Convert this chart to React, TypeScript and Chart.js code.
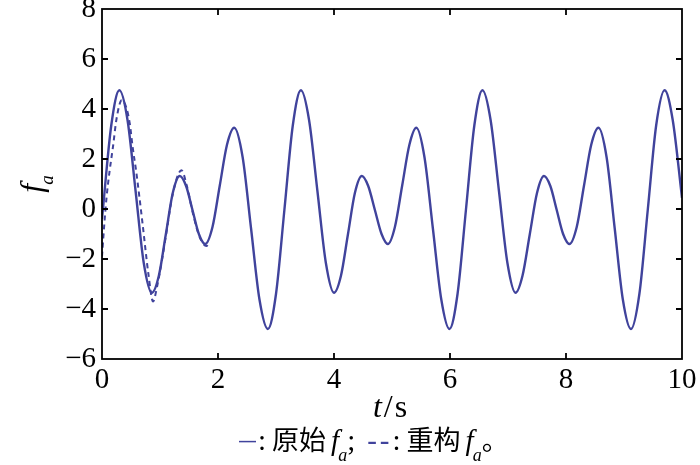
import React, { useEffect, useRef } from "react";
import { Chart, registerables } from "chart.js";

Chart.register(...registerables);

// time axis (s) and original f_a values
const tOrig = [0, 0.16, 0.30, 0.44, 0.58, 0.72, 0.86, 0.98, 1.10, 1.22, 1.34, 1.45, 1.56, 1.67, 1.78, 1.905, 2.03, 2.155, 2.28, 2.425, 2.57, 2.715, 2.86, 3.0, 3.145, 3.29, 3.43, 3.57, 3.715, 3.86, 4.00, 4.12, 4.24, 4.36, 4.48, 4.59, 4.705, 4.82, 4.93, 5.05, 5.175, 5.30, 5.42, 5.56, 5.705, 5.85, 5.99, 6.13, 6.275, 6.42, 6.56, 6.70, 6.845, 6.99, 7.13, 7.25, 7.375, 7.50, 7.62, 7.73, 7.84, 7.95, 8.06, 8.185, 8.31, 8.435, 8.56, 8.70, 8.84, 8.98, 9.12, 9.265, 9.41, 9.555, 9.70, 9.84, 10.0];
const fOrig = [-0.4, 3.35, 4.75, 3.56, 0.70, -2.16, -3.35, -2.67, -1.02, 0.64, 1.32, 0.92, -0.04, -1.0, -1.40, -0.72, 0.93, 2.57, 3.25, 2.07, -0.78, -3.62, -4.80, -3.40, -0.03, 3.35, 4.75, 3.56, 0.70, -2.16, -3.35, -2.67, -1.02, 0.64, 1.32, 0.92, -0.04, -1.0, -1.40, -0.72, 0.93, 2.57, 3.25, 2.07, -0.78, -3.62, -4.80, -3.40, -0.03, 3.35, 4.75, 3.56, 0.70, -2.16, -3.35, -2.67, -1.02, 0.64, 1.32, 0.92, -0.04, -1.0, -1.40, -0.72, 0.93, 2.57, 3.25, 2.07, -0.78, -3.62, -4.80, -3.40, -0.03, 3.35, 4.75, 3.56, 0.45];

// reconstructed f_a (dashed), only over the first ~1.8 s
const tRec = [0, 0.04, 0.08, 0.13, 0.19, 0.25, 0.34, 0.42, 0.48, 0.53, 0.59, 0.70, 0.80, 0.88, 0.95, 1.00, 1.10, 1.22, 1.37, 1.46, 1.57, 1.68, 1.80, 1.84];
const fRec = [-1.9, -0.6, 0.5, 1.5, 2.5, 3.6, 4.35, 4.05, 3.4, 2.45, 1.5, -0.6, -2.6, -3.7, -3.1, -2.5, -1.1, 0.6, 1.55, 0.95, -0.2, -1.1, -1.48, -1.4];

const xTicks = [0, 2, 4, 6, 8, 10];
const yTicks = [-6, -4, -2, 0, 2, 4, 6, 8];

const LINE = "#40439c";
const SERIF = "'Liberation Serif', 'Times New Roman', serif";
const CJK = "'Noto Sans CJK SC', sans-serif";

const boxPlugin = {
  id: "boxTicks",
  afterDraw(chart: any) {
    const { ctx, chartArea: a, scales } = chart;
    ctx.save();
    ctx.strokeStyle = "#000";
    ctx.lineWidth = 1.8;
    ctx.strokeRect(a.left, a.top, a.right - a.left, a.bottom - a.top);
    const L = 6;
    ctx.beginPath();
    xTicks.forEach((v) => {
      const x = scales.x.getPixelForValue(v);
      if (v === xTicks[0] || v === xTicks[xTicks.length - 1]) return;
      ctx.moveTo(x, a.bottom); ctx.lineTo(x, a.bottom - L);
      ctx.moveTo(x, a.top); ctx.lineTo(x, a.top + L);
    });
    yTicks.forEach((v) => {
      const y = scales.y.getPixelForValue(v);
      if (v === yTicks[0] || v === yTicks[yTicks.length - 1]) return;
      ctx.moveTo(a.left, y); ctx.lineTo(a.left + L, y);
      ctx.moveTo(a.right, y); ctx.lineTo(a.right - L, y);
    });
    ctx.stroke();
    ctx.restore();
  },
};

export default function App() {
  const ref = useRef<HTMLCanvasElement | null>(null);
  useEffect(() => {
    if (!ref.current) return;
    const chart = new Chart(ref.current, {
      type: "line",
      data: {
        datasets: [
          {
            label: "原始",
            data: tOrig.map((t, i) => ({ x: t, y: fOrig[i] })),
            borderColor: LINE,
            borderWidth: 2.4,
            pointRadius: 0,
            cubicInterpolationMode: "monotone",
          },
          {
            label: "重构",
            data: tRec.map((t, i) => ({ x: t, y: fRec[i] })),
            borderColor: LINE,
            borderWidth: 2,
            borderDash: [5, 4],
            pointRadius: 0,
            cubicInterpolationMode: "monotone",
          },
        ],
      },
      options: {
        animation: false,
        responsive: false,
        maintainAspectRatio: false,
        layout: { padding: { left: 0, top: 9, right: 18, bottom: 0 } },
        plugins: { legend: { display: false }, tooltip: { enabled: false } },
        scales: {
          x: {
            type: "linear",
            min: 0,
            max: 10,
            afterBuildTicks: (s: any) => { s.ticks = xTicks.map((v) => ({ value: v })); },
            afterFit: (s: any) => { s.height = 106; s.paddingLeft = 0; s.paddingRight = 0; },
            grid: { display: false, drawTicks: false },
            border: { display: false },
            ticks: { color: "#000", font: { family: SERIF, size: 29 }, padding: 4, maxRotation: 0, autoSkip: false },
          },
          y: {
            type: "linear",
            min: -6,
            max: 8,
            afterBuildTicks: (s: any) => { s.ticks = yTicks.map((v) => ({ value: v })); },
            afterFit: (s: any) => { s.width = 102; s.paddingTop = 0; s.paddingBottom = 0; },
            grid: { display: false, drawTicks: false },
            border: { display: false },
            ticks: {
              color: "#000",
              font: { family: SERIF, size: 29 },
              padding: 6,
              autoSkip: false,
              callback: (v: any) => (Number(v) < 0 ? "\u2212" + Math.abs(Number(v)) : String(v)),
            },
          },
        },
      },
      plugins: [boxPlugin],
    } as any);
    return () => chart.destroy();
  }, []);

  const sub = (txt: string, size = 18, top = 11) => (
    <span style={{ fontSize: size, fontStyle: "italic", position: "relative", top, marginLeft: -1 }}>{txt}</span>
  );

  return (
    <div style={{ position: "absolute", left: 0, top: 0, width: 700, height: 465, background: "#fff" }}>
      <canvas ref={ref} width={700} height={465} style={{ position: "absolute", left: 0, top: 0, width: 700, height: 465 }} />
      <div
        style={{
          position: "absolute", left: 8, top: 166, width: 46, height: 36,
          transform: "rotate(-90deg)", transformOrigin: "center center",
          fontFamily: SERIF, fontSize: 32, lineHeight: "36px", whiteSpace: "nowrap", color: "#000", textAlign: "center",
        }}
      >
        <span style={{ fontStyle: "italic" }}>f</span>
        {sub("a", 19, 11)}
      </div>
      <div
        style={{
          position: "absolute", left: 291, width: 200, top: 390, textAlign: "center",
          fontFamily: SERIF, fontSize: 32, lineHeight: "32px", color: "#000", whiteSpace: "nowrap",
          letterSpacing: 2,
        }}
      >
        <span style={{ fontStyle: "italic" }}>t</span>/s
      </div>
      <div
        style={{
          position: "absolute", left: 239, top: 423,
          fontFamily: SERIF, fontSize: 29, lineHeight: "32px", color: "#000", whiteSpace: "nowrap",
        }}
      >
        <span style={{ color: LINE, display: "inline-block", width: 17, overflow: "hidden", verticalAlign: "top" }}>—</span>
        <span style={{ marginLeft: 2, marginRight: 6 }}>:</span>
        <span style={{ fontFamily: CJK, fontSize: 27 }}>原始</span>
        <span style={{ fontStyle: "italic", marginLeft: 5 }}>f</span>
        {sub("a")}
        <span>;</span>
        <span style={{ color: LINE, marginLeft: 12, letterSpacing: 3 }}>--</span>
        <span style={{ marginRight: 6 }}>:</span>
        <span style={{ fontFamily: CJK, fontSize: 27 }}>重构</span>
        <span style={{ fontStyle: "italic", marginLeft: 5 }}>f</span>
        {sub("a")}
        <span style={{ fontFamily: CJK, fontSize: 27 }}>。</span>
      </div>
    </div>
  );
}
